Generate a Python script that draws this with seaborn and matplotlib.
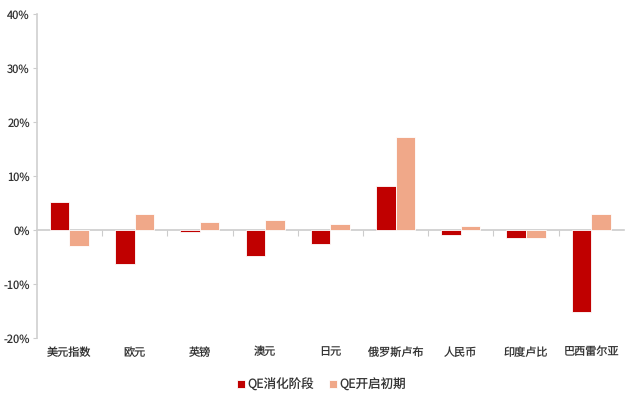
import matplotlib
matplotlib.use("Agg")
import matplotlib.pyplot as plt
import seaborn as sns
import pandas as pd
import numpy as np
from matplotlib.ticker import FuncFormatter, FixedLocator, NullFormatter

categories = ["美元指数", "欧元", "英镑", "澳元", "日元", "俄罗斯卢布", "人民币", "印度卢比", "巴西雷尔亚"]
series_names = ["QE消化阶段", "QE开启初期"]
qe_digest = [5.2, -6.3, -0.3, -4.8, -2.6, 8.2, -0.9, -1.5, -15.2]
qe_start = [-2.9, 2.9, 1.5, 1.9, 1.1, 17.2, 0.8, -1.5, 2.9]
colors = ["#C00000", "#F0A889"]

df = pd.DataFrame({
    "cat": categories * 2,
    "series": [series_names[0]] * len(categories) + [series_names[1]] * len(categories),
    "value": qe_digest + qe_start,
})

sns.set_style("white")
plt.rcParams["font.family"] = ["Noto Sans CJK SC", "DejaVu Sans"]
plt.rcParams["text.hinting"] = "no_hinting"
plt.rcParams["text.hinting_factor"] = 1

fig = plt.figure(figsize=(6.25, 3.94), dpi=100)
ax = fig.add_axes([0.059, 0.142, 0.939, 0.822])
sns.barplot(data=df, x="cat", y="value", hue="series", palette=colors, width=0.6,
            saturation=1, edgecolor="white", linewidth=0.6, ax=ax, legend=True)

ax.set_ylim(-20, 40)
ax.set_xlim(-0.5, len(categories) - 0.5)
ax.set_yticks(np.arange(-20, 41, 10))
ax.yaxis.set_major_formatter(FuncFormatter(lambda v, p: f"{v:.0f}%"))
ax.tick_params(axis="y", labelsize=8, colors="#333333", length=3, width=0.8, direction="out", left=True, pad=2)
ax.tick_params(axis="y", color="#CCCCCC")
ax.set_xticks(range(len(categories)))
ax.set_xticklabels(categories, fontsize=8, color="#333333", va="top")
ax.tick_params(axis="x", length=0, pad=6)
ax.set_xlabel("")
ax.set_ylabel("")
for s in ["top", "right", "bottom"]:
    ax.spines[s].set_visible(False)
ax.spines["left"].set_color("#D0D0D0")
ax.spines["left"].set_linewidth(1.2)

# zero line with category-boundary ticks
sec = ax.secondary_xaxis(20 / 60)
sec.spines["bottom"].set_color("#CCCCCC")
sec.spines["bottom"].set_linewidth(1.2)
sec.xaxis.set_major_locator(FixedLocator(np.arange(0.5, len(categories) - 0.5, 1)))
sec.xaxis.set_major_formatter(NullFormatter())
sec.tick_params(axis="x", length=4, width=0.8, color="#CCCCCC", direction="out")

leg = ax.legend(loc="upper center", bbox_to_anchor=(0.485, -0.09), ncol=2, frameon=False,
                fontsize=9, handlelength=0.6, handleheight=0.6, handletextpad=0.2, columnspacing=1.2)
for t in leg.get_texts():
    t.set_color("#333333")

fig.savefig("out.png", dpi=100)
